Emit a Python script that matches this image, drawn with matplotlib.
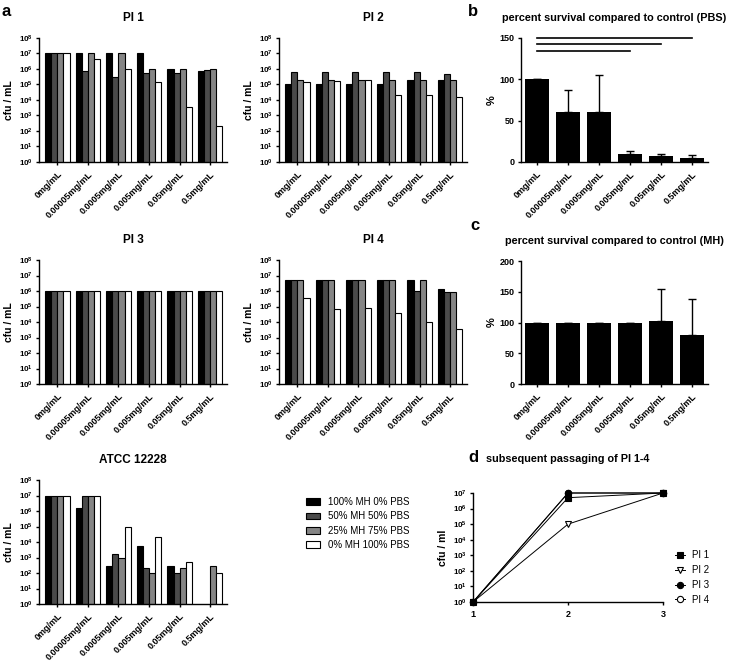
import numpy as np
import matplotlib.pyplot as plt
from matplotlib.patches import Patch
from matplotlib.ticker import NullLocator

plt.rcParams['font.family'] = ['Liberation Sans', 'DejaVu Sans']
plt.rcParams['mathtext.fontset'] = 'custom'
plt.rcParams['mathtext.rm'] = 'Liberation Sans'
plt.rcParams['mathtext.bf'] = 'Liberation Sans:bold'
plt.rcParams['axes.linewidth'] = 1.0
plt.rcParams['xtick.major.width'] = 1.0
plt.rcParams['ytick.major.width'] = 1.0
plt.rcParams['xtick.major.size'] = 2.5
plt.rcParams['ytick.major.size'] = 2.5
#--------------------------------------
conc = ['0mg/mL', '0.00005mg/mL', '0.0005mg/mL', '0.005mg/mL', '0.05mg/mL', '0.5mg/mL']
media = ['100% MH 0% PBS', '50% MH 50% PBS', '25% MH 75% PBS', '0% MH 100% PBS']
media_colors = ['black', '#4a4a4a', '#858585', 'white']

# cfu/mL, one row per medium, one column per concentration
pi1 = [[1e7, 1e7, 1e7, 1e7, 1e6, 7.8e5],
       [1e7, 7.5e5, 3.2e5, 5.2e5, 5.2e5, 8.5e5],
       [1e7, 1e7, 1e7, 1e6, 1e6, 1e6],
       [1e7, 4.7e6, 1e6, 1.35e5, 3.3e3, 2.1e2]]
pi2 = [[1e5, 1e5, 1e5, 1e5, 2.1e5, 2.1e5],
       [6e5, 6e5, 6e5, 6e5, 6e5, 5e5],
       [1.9e5, 1.9e5, 1.9e5, 1.9e5, 1.9e5, 1.9e5],
       [1.5e5, 1.6e5, 2.1e5, 2.2e4, 2e4, 1.5e4]]
pi3 = [[1e6, 1e6, 1e6, 1e6, 1e6, 1e6],
       [1e6, 1e6, 1e6, 1e6, 1e6, 1e6],
       [1e6, 1e6, 1e6, 1e6, 1e6, 1e6],
       [1e6, 1e6, 1e6, 1e6, 1e6, 1e6]]
pi4 = [[5e6, 5e6, 5e6, 5e6, 5e6, 1.3e6],
       [5e6, 5e6, 5e6, 5e6, 1e6, 9e5],
       [5e6, 5e6, 5e6, 5e6, 5e6, 9e5],
       [3.7e5, 7e4, 8.5e4, 3.7e4, 9.5e3, 3.4e3]]
atcc = [[1e7, 1.5e6, 3e2, 5.8e3, 3e2, np.nan],
        [1e7, 1e7, 1.6e3, 2e2, 1e2, np.nan],
        [1e7, 1e7, 9e2, 1e2, 2e2, 3e2],
        [1e7, 1e7, 9e4, 2.2e4, 4.9e2, 1e2]]

pbs_mean = [100, 60, 61, 10, 7, 5]
pbs_err = [0, 27, 44, 3.5, 3, 3]
sig_level = [150, 143, 134]
sig_end = [5, 4, 3]

mh_mean = [100, 100, 100, 100, 102, 79]
mh_err = [0, 0, 0, 0, 53, 60]

passage = [1, 2, 3]
pass_names = ['PI 1', 'PI 2', 'PI 3', 'PI 4']
pass_vals = [[1, 5e6, 1e7],
             [1, 1e5, 1e7],
             [1, 1e7, 1e7],
             [1, 1e7, 1e7]]
pass_markers = ['s', 'v', 'o', 'o']
pass_fill = ['black', 'white', 'black', 'white']
pass_z = [6, 4, 5, 3]
#--------------------------------------
W, H = 739, 661
fig = plt.figure(figsize=(W / 100, H / 100), dpi=100)


def rect(left, top, right, bottom):
    return [left / W, 1 - bottom / H, (right - left) / W, (bottom - top) / H]


def style(ax, ysize=6.5):
    ax.spines['top'].set_visible(False)
    ax.spines['right'].set_visible(False)
    ax.tick_params(axis='x', labelsize=6.5, pad=3)
    ax.tick_params(axis='y', labelsize=ysize, pad=2)
    for lab in ax.get_xticklabels() + ax.get_yticklabels():
        lab.set_fontweight('bold')


x = np.arange(len(conc))


def cfu_panel(r, title, data):
    ax = fig.add_axes(r)
    for j in range(4):
        ax.bar(x + (j - 1.5) * 0.2, data[j], width=0.2, color=media_colors[j],
               edgecolor='black', linewidth=0.8)
    ax.set_yscale('log')
    ax.set_ylim(1, 1e8)
    ax.set_xlim(-0.6, 5.55)
    ax.set_yticks([10.0 ** k for k in range(9)])
    ax.set_yticklabels(['$\\mathbf{10^{%d}}$' % k for k in range(9)])
    ax.yaxis.set_minor_locator(NullLocator())
    ax.set_xticks(x)
    ax.set_xticklabels(conc, rotation=45, ha='right', rotation_mode='anchor')
    ax.set_ylabel('cfu / mL', fontsize=7.5, fontweight='bold', labelpad=3)
    ax.set_title(title, fontsize=8.5, fontweight='bold', pad=12)
    style(ax, 5.8)
    return ax


cfu_panel(rect(39, 38, 227, 162), 'PI 1', pi1)
cfu_panel(rect(279, 38, 467, 162), 'PI 2', pi2)
cfu_panel(rect(39, 260, 227, 384), 'PI 3', pi3)
cfu_panel(rect(279, 260, 467, 384), 'PI 4', pi4)
cfu_panel(rect(39, 480, 227, 604), 'ATCC 12228', atcc)

handles = [Patch(facecolor=c, edgecolor='black', linewidth=0.8, label=m)
           for c, m in zip(media_colors, media)]
fig.legend(handles=handles, loc='upper left', bbox_to_anchor=(306 / W, 1 - 497 / H),
           frameon=False, fontsize=7, handlelength=1.4, handleheight=0.7,
           labelspacing=0.45, handletextpad=0.9, borderpad=0, borderaxespad=0)

# b: survival in PBS
ax_b = fig.add_axes(rect(521, 38, 708, 162))
ax_b.bar(x, pbs_mean, width=0.8, color='black')
ax_b.errorbar(x, pbs_mean, yerr=[np.zeros(6), pbs_err], fmt='none', ecolor='black',
              elinewidth=1, capsize=3, capthick=1)
for lvl, end in zip(sig_level, sig_end):
    ax_b.plot([0, end], [lvl, lvl], color='black', lw=1.2, clip_on=False)
ax_b.set_ylim(0, 150)
ax_b.set_xlim(-0.52, 5.52)
ax_b.set_yticks([0, 50, 100, 150])
ax_b.set_xticks(x)
ax_b.set_xticklabels(conc, rotation=45, ha='right', rotation_mode='anchor')
ax_b.set_ylabel('%', fontsize=8, fontweight='bold', labelpad=2)
ax_b.set_title('percent survival compared to control (PBS)', fontsize=7.8,
               fontweight='bold', pad=12)
style(ax_b)

# c: survival in MH
ax_c = fig.add_axes(rect(521, 261, 708, 384))
ax_c.bar(x, mh_mean, width=0.8, color='black')
ax_c.errorbar(x, mh_mean, yerr=[np.zeros(6), mh_err], fmt='none', ecolor='black',
              elinewidth=1, capsize=3, capthick=1)
ax_c.set_ylim(0, 200)
ax_c.set_xlim(-0.52, 5.52)
ax_c.set_yticks([0, 50, 100, 150, 200])
ax_c.set_xticks(x)
ax_c.set_xticklabels(conc, rotation=45, ha='right', rotation_mode='anchor')
ax_c.set_ylabel('%', fontsize=8, fontweight='bold', labelpad=2)
ax_c.set_title('percent survival compared to control (MH)', fontsize=7.8,
               fontweight='bold', pad=12)
style(ax_c)

# d: passaging
ax_d = fig.add_axes(rect(473, 493, 663, 602))
for name, vals, mk, fc, z in zip(pass_names, pass_vals, pass_markers, pass_fill, pass_z):
    ax_d.plot(passage, vals, color='black', lw=0.7, marker=mk, ms=4.5, mfc=fc,
              mec='black', mew=0.8, clip_on=False, zorder=z, label=name)
ax_d.set_yscale('log')
ax_d.set_ylim(1, 1e7)
ax_d.set_xlim(1, 3)
ax_d.set_yticks([10.0 ** k for k in range(8)])
ax_d.set_yticklabels(['$\\mathbf{10^{%d}}$' % k for k in range(8)])
ax_d.yaxis.set_minor_locator(NullLocator())
ax_d.set_xticks(passage)
ax_d.set_ylabel('cfu / ml', fontsize=7.5, fontweight='bold', labelpad=3)
ax_d.set_title('subsequent passaging of PI 1-4', fontsize=7.8, fontweight='bold', pad=22)
style(ax_d, 5.8)
ax_d.legend(loc='upper left', bbox_to_anchor=(1.04, 0.52), frameon=False, fontsize=7,
            handlelength=1.0, handletextpad=0.7, labelspacing=0.5, borderpad=0)

for lab, px, py in [('a', 2, 12), ('b', 468, 12), ('c', 470, 225), ('d', 468, 458)]:
    fig.text(px / W, 1 - py / H, lab, fontsize=12, fontweight='bold', va='center')

fig.savefig('out.png', dpi=100)
